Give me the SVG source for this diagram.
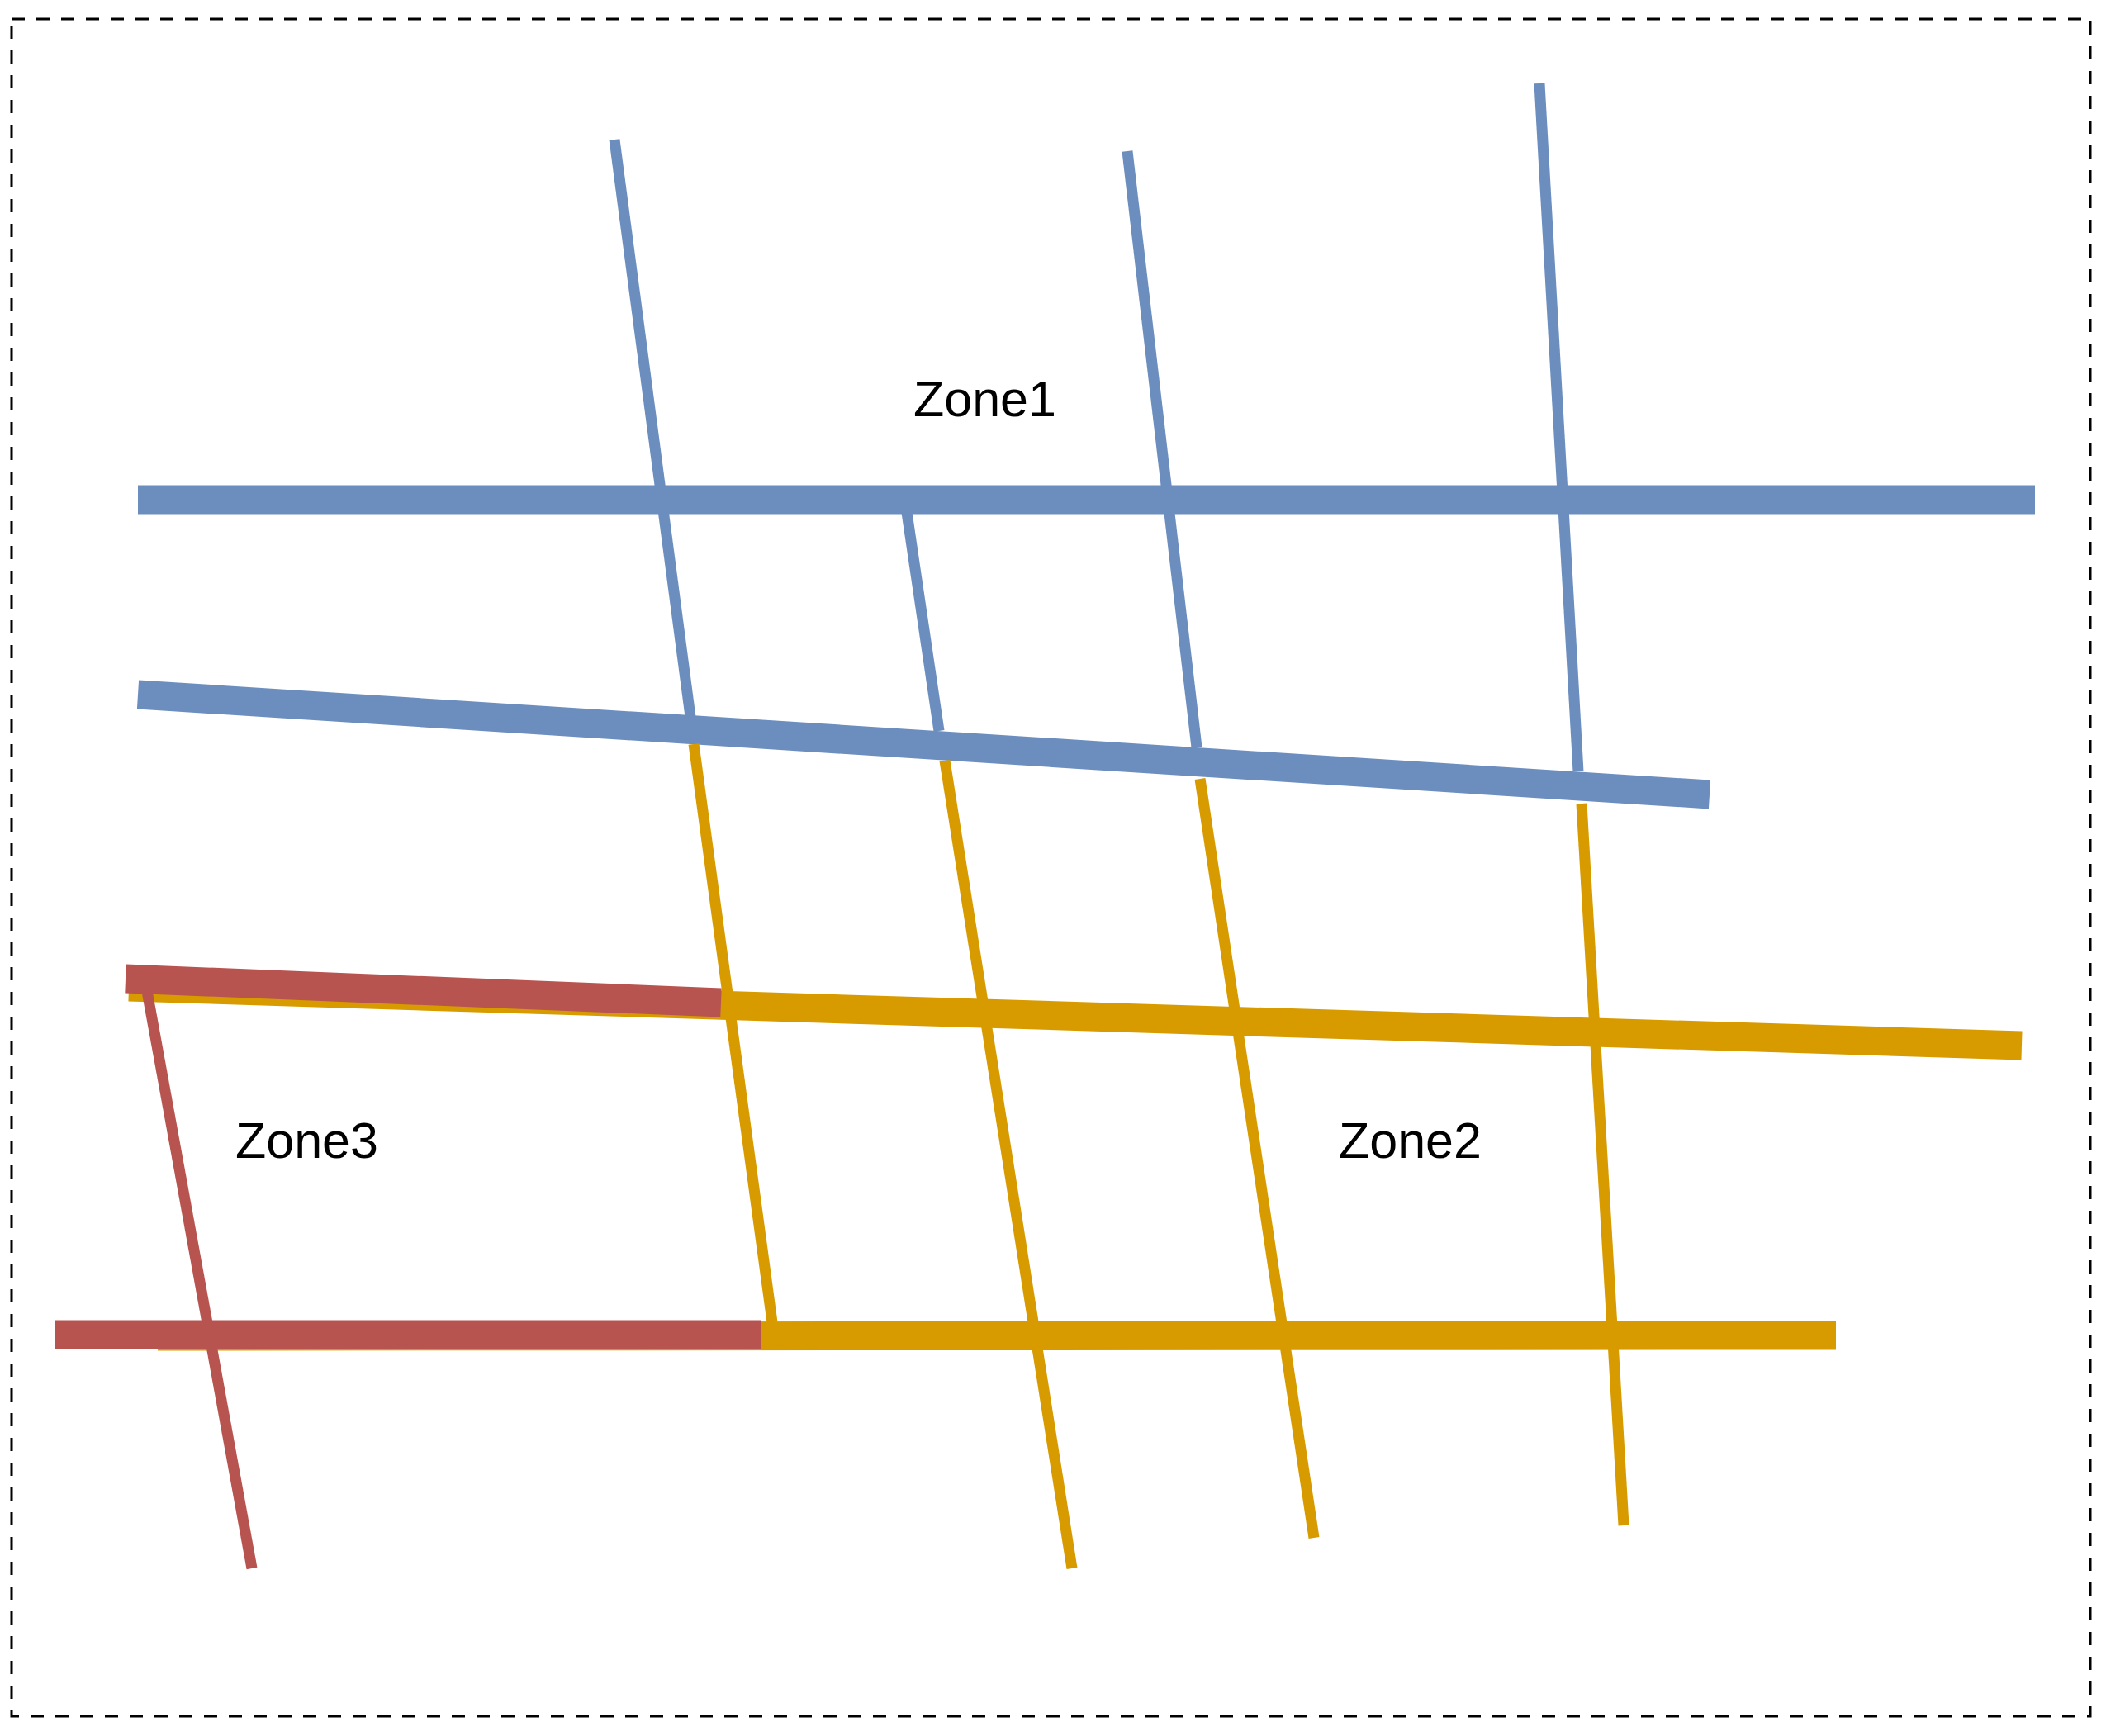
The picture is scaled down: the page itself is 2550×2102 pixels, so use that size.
<svg xmlns="http://www.w3.org/2000/svg" width="2550" height="2102" viewBox="0 0 2550 2102">
<style>
.b{stroke:#6C8EBF}
.y{stroke:#D79B00}
.r{stroke:#B85450}
.thick{stroke-width:35;fill:none}
.thin{stroke-width:13;fill:none}
.lbl{font-family:"Liberation Sans",Arial,sans-serif;font-size:61px;fill:#000}
</style>
<rect width="2550" height="2102" fill="#fff"/>
<g id="frame">
<rect x="14" y="23" width="2517" height="2055" fill="none" stroke="#000" stroke-width="3" stroke-dasharray="16 14"/>
</g>
<g id="connectors">
<g id="thick-lines">
<line class="thick b" x1="167" y1="605" x2="2464" y2="605"/>
<line class="thick b" x1="167" y1="841" x2="2070" y2="962"/>
<line class="thick y" x1="156" y1="1195" x2="2448" y2="1266"/>
<line class="thick y" x1="191" y1="1618" x2="2223" y2="1617"/>
<line class="thick r" x1="152" y1="1185" x2="873" y2="1214"/>
<line class="thick r" x1="66" y1="1616" x2="922" y2="1616"/>
</g>
<g id="thin-lines">
<line class="thin b" x1="744" y1="169" x2="836" y2="868"/>
<line class="thin b" x1="1096" y1="607" x2="1137" y2="885"/>
<line class="thin b" x1="1365" y1="183" x2="1449" y2="905"/>
<line class="thin b" x1="1864" y1="101" x2="1911" y2="934"/>
<line class="thin y" x1="840" y1="901" x2="935" y2="1601"/>
<line class="thin y" x1="1144" y1="921" x2="1298" y2="1899"/>
<line class="thin y" x1="1453" y1="943" x2="1591" y2="1862"/>
<line class="thin y" x1="1915" y1="973" x2="1966" y2="1847"/>
<line class="thin r" x1="178" y1="1200" x2="305" y2="1899"/>
</g>
</g>
<g id="zone1"><text class="lbl" x="1106" y="504">Zone1</text></g>
<g id="zone2"><text class="lbl" x="1621" y="1402">Zone2</text></g>
<g id="zone3"><text class="lbl" x="285" y="1402">Zone3</text></g>
</svg>
